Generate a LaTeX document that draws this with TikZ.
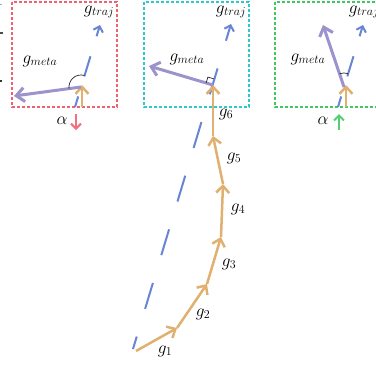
\documentclass[tikz,border=0pt]{standalone}
\usetikzlibrary{arrows.meta,calc}
\definecolor{cOr}{RGB}{224,176,112}
\definecolor{cBl}{RGB}{104,132,212}
\definecolor{cPu}{RGB}{156,146,204}
\definecolor{cRd}{RGB}{240,96,112}
\definecolor{cCy}{RGB}{48,200,200}
\definecolor{cGr}{RGB}{64,200,96}
\definecolor{cRa}{RGB}{240,112,128}
\definecolor{cGa}{RGB}{80,208,112}
\begin{document}
\begin{tikzpicture}[x=1pt,y=-1pt,
  lab/.style={font=\fontsize{18.5}{22}\selectfont, inner sep=0pt},
  orarr/.style={draw=cOr, line width=2.5pt, -{Straight Barb[length=7pt,width=13pt]}},
  puarr/.style={draw=cPu, line width=3pt, -{Straight Barb[length=8pt,width=14pt]}},
  blmain/.style={draw=cBl, line width=2pt, dash pattern=on 27pt off 29pt, dash phase=14pt, -{Straight Barb[length=5pt,width=10pt]}},
  blmini/.style={draw=cBl, line width=2pt, dash pattern=on 21pt off 21pt, dash phase=10pt, -{Straight Barb[length=5pt,width=10pt]}},
  boxr/.style={line width=1.2pt, dash pattern=on 3pt off 2pt},
  angmark/.style={draw=black!85, line width=0.7pt}]
\useasboundingbox (0,0) rectangle (376,365);
\clip (0,0) rectangle (376,365);
% fragments at left edge
\fill[black!70] (0,32.3) rectangle (3,33.8);
\fill[black!80] (0,79.5) rectangle (2.5,81.5);
\fill[black!35] (0,3.5) rectangle (2,5);

% boxes
\draw[boxr, draw=cRd] (12,2) rectangle (117,107);
\draw[boxr, draw=cCy] (144,2) rectangle (249,107);
\draw[boxr, draw=cGr] (275,2) rectangle (385,107);

% main trajectory
\coordinate (p0) at (136,351);
\coordinate (p1) at (177,328);
\coordinate (p2) at (207,284);
\coordinate (p3) at (221,237);
\coordinate (p4) at (223,184);
\coordinate (p5) at (213,136);
\coordinate (p6) at (213,85);
\coordinate (bs) at (133,349);
\coordinate (bt) at (231,24);
\draw[blmain] (bs) -- (bt);
\draw[orarr] (p0) -- (p1);
\draw[orarr] (p1) -- (p2);
\draw[orarr] (p2) -- (p3);
\draw[orarr] (p3) -- (p4);
\draw[orarr] (p4) -- (p5);
\draw[orarr] (p5) -- (p6);
\node[lab] (g1) at (165,351) {$g_1$};
\node[lab] (g2) at (203,314) {$g_2$};
\node[lab] (g3) at (229,264) {$g_3$};
\node[lab] (g4) at (238,209) {$g_4$};
\node[lab] (g5) at (234,158) {$g_5$};
\node[lab] (g6) at (226,114) {$g_6$};
% middle box meta
\coordinate (m2) at (149,66);
\draw[puarr] (p6) -- (m2);
\draw[angmark] (213.7,78.8) -- (207.9,77.1) -- (206.2,82.8);
\node[lab] (gt2) at (231,12) {$g_{traj}$};
\node[lab] (gm2) at (187,59) {$g_{meta}$};

% left box
\coordinate (a0) at (82,107);
\coordinate (a1) at (82,85);
\coordinate (lb) at (75,107);
\coordinate (lt) at (100,25);
\coordinate (lm) at (14,96);
\draw[blmini] (lb) -- (lt);
\draw[orarr] (a0) -- (a1);
\draw[puarr] (81,87) -- (lm);
\draw[angmark] (84.5,75.5) arc[start angle=73, end angle=187.65, radius=12pt];
\node[lab] (gt1) at (99,12) {$g_{traj}$};
\node[lab] (gm1) at (40,61) {$g_{meta}$};
\node[lab] (al1) at (62,121) {$\alpha$};
\coordinate (ra0) at (76,114);
\coordinate (ra1) at (76,130);
\draw[draw=cRa, line width=2pt, -{Straight Barb[length=5pt,width=10pt]}] (ra0) -- (ra1);

% right box
\coordinate (c0) at (346,107);
\coordinate (c1) at (346,85);
\coordinate (rb) at (338,107);
\coordinate (rt) at (363,25);
\coordinate (rm) at (323,25);
\draw[blmini] (rb) -- (rt);
\draw[orarr] (c0) -- (c1);
\draw[puarr] (344,87) -- (rm);
\draw[angmark] (348.1,73.6) arc[start angle=73, end angle=108.7, radius=14pt];
\node[lab] (gt3) at (364,12) {$g_{traj}$};
\node[lab] (gm3) at (308,59) {$g_{meta}$};
\node[lab] (al3) at (323,121) {$\alpha$};
\coordinate (ga0) at (339,130);
\coordinate (ga1) at (339,114);
\draw[draw=cGa, line width=2pt, -{Straight Barb[length=5pt,width=10pt]}] (ga0) -- (ga1);
\end{tikzpicture}
\end{document}
